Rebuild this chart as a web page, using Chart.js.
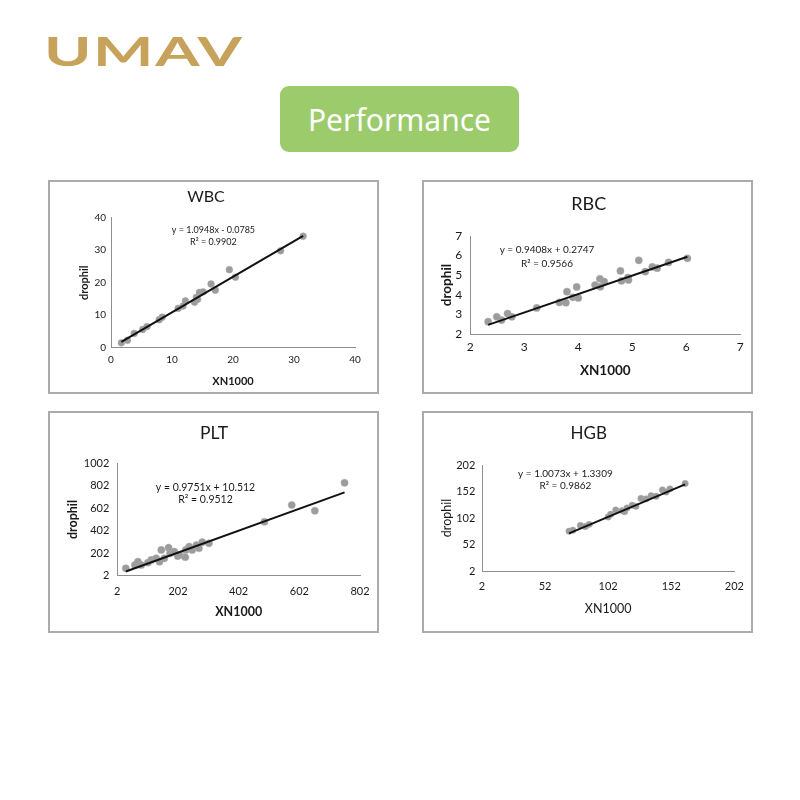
<!DOCTYPE html>
<html><head><meta charset="utf-8">
<script src="https://cdn.jsdelivr.net/npm/chart.js@4"></script>
<style>
html,body{margin:0;padding:0;background:#fff;width:800px;height:800px;overflow:hidden;}
.logo{position:absolute;left:44px;top:31px;font-family:Lato;font-weight:700;color:#c6a25b;font-size:40px;line-height:1;letter-spacing:1px;transform-origin:left top;transform:scale(1.6,1);white-space:nowrap;}
.badge{position:absolute;left:280px;top:86px;width:239px;height:66px;border-radius:9px;background:#9bcb6b;color:#fff;font-family:'Noto Sans';font-size:30px;display:flex;align-items:center;justify-content:center;}
.panel{position:absolute;box-shadow:inset 0 0 0 2px #ababab;}
.panel canvas{position:absolute;left:0;top:0;}
</style></head>
<body>
<div class="logo">UMAV</div>
<div class="badge">Performance</div>
<div class="panel" id="p0"><canvas id="c0"></canvas></div>
<div class="panel" id="p1"><canvas id="c1"></canvas></div>
<div class="panel" id="p2"><canvas id="c2"></canvas></div>
<div class="panel" id="p3"><canvas id="c3"></canvas></div>
<script>
// ---- data ----
const panelTitles = ['WBC', 'RBC', 'PLT', 'HGB'];
const xAxisTitle = 'XN1000';
const yAxisTitle = 'drophil';

const wbcX = [1.7, 2.7, 3.8, 5.2, 5.9, 7.9, 8.4, 11.0, 11.8, 12.2, 13.7, 14.0, 14.2, 14.5, 15.1, 16.4, 17.1, 19.4, 20.4, 27.8, 31.5];
const wbcY = [1.5, 2.3, 4.4, 5.6, 6.5, 8.6, 9.4, 12.1, 12.8, 14.4, 14.0, 15.5, 14.9, 17.0, 17.2, 19.6, 17.7, 24.0, 21.7, 29.8, 34.3];
const wbcFit = [1.0948, -0.0785];
const wbcEq = ['y = 1.0948x - 0.0785', 'R\u00B2 = 0.9902'];
const wbcXTicks = [0, 10, 20, 30, 40];
const wbcYTicks = [0, 10, 20, 30, 40];

const rbcX = [2.33, 2.49, 2.58, 2.69, 2.77, 3.23, 3.65, 3.77, 3.79, 3.90, 3.97, 4.00, 4.31, 4.40, 4.41, 4.48, 4.78, 4.80, 4.92, 4.93, 5.12, 5.24, 5.37, 5.46, 5.67, 6.02];
const rbcY = [2.63, 2.88, 2.71, 3.04, 2.88, 3.33, 3.61, 3.60, 4.16, 3.87, 4.40, 3.84, 4.50, 4.82, 4.41, 4.67, 5.22, 4.71, 4.88, 4.76, 5.76, 5.18, 5.42, 5.36, 5.65, 5.86];
const rbcFit = [0.9408, 0.2747];
const rbcEq = ['y = 0.9408x + 0.2747', 'R\u00B2 = 0.9566'];
const rbcXTicks = [2, 3, 4, 5, 6, 7];
const rbcYTicks = [2, 3, 4, 5, 6, 7];

const pltX = [30, 60, 70, 81, 103, 114, 130, 141, 147, 157, 171, 176, 190, 201, 208, 226, 228, 239, 249, 263, 271, 282, 304, 487, 577, 653, 751];
const pltY = [68, 97, 127, 97, 118, 142, 157, 127, 231, 157, 251, 201, 216, 177, 186, 166, 231, 260, 231, 275, 246, 300, 290, 482, 631, 580, 829];
const pltFit = [0.9751, 10.512];
const pltEq = ['y = 0.9751x + 10.512', 'R\u00B2 = 0.9512'];
const pltXTicks = [2, 202, 402, 602, 802];
const pltYTicks = [2, 202, 402, 602, 802, 1002];

const hgbX = [71, 74, 80, 84, 87, 102, 104, 108, 113, 115, 117, 121, 124, 128, 132, 136, 140, 145, 148, 151, 163];
const hgbY = [77, 79, 88, 86, 90, 104, 109, 117, 116, 114, 121, 126, 124, 139, 138, 144, 143, 155, 151, 157, 167];
const hgbFit = [1.0073, 1.3309];
const hgbEq = ['y = 1.0073x + 1.3309', 'R\u00B2 = 0.9862'];
const hgbXTicks = [2, 52, 102, 152, 202];
const hgbYTicks = [2, 52, 102, 152, 202];

// ---- layout / style per panel ----
const panels = [
  {xs: wbcX, ys: wbcY, fit: wbcFit, eq: wbcEq, xt: wbcXTicks, yt: wbcYTicks,
   box: [48, 180, 331, 214], pad: {left: 26.1, top: 37.7, right: 24, bottom: 1.7}, yW: 36.9, xH: 44.6,
   tick: 10, tpx: 6.3, tpy: 5, at: 11, aw: 'bold', ts: 16, tPos: [158, 17.3], es: 9, ePos: [165.4, 50, 62.3], r: 3.4},
  {xs: rbcX, ys: rbcY, fit: rbcFit, eq: rbcEq, xt: rbcXTicks, yt: rbcYTicks,
   box: [422, 180, 331, 214], pad: {left: 12.9, top: 56, right: 12.7, bottom: 11.2}, yW: 35.4, xH: 48.8,
   tick: 12, tpx: 5.5, tpy: 8, at: 13.5, aw: 'bold', ts: 18, tPos: [166.7, 24], es: 10, ePos: [125, 69.3, 84], r: 3.6},
  {xs: pltX, ys: pltY, fit: pltFit, eq: pltEq, xt: pltXTicks, yt: pltYTicks,
   box: [48, 411, 331, 222], pad: {left: 13.5, top: 52.3, right: 16, bottom: 9.8}, yW: 55.8, xH: 47.5,
   tick: 11, tpx: 9.4, tpy: 8, at: 12.5, aw: 'bold', ts: 17.5, tPos: [166, 22.3], es: 10.5, ePos: [157.5, 76.3, 88.3], r: 3.6},
  {xs: hgbX, ys: hgbY, fit: hgbFit, eq: hgbEq, xt: hgbXTicks, yt: hgbYTicks,
   box: [422, 411, 331, 222], pad: {left: 13.5, top: 54, right: 14.3, bottom: 12.5}, yW: 46.5, xH: 49.5,
   tick: 11, tpx: 9.1, tpy: 6.7, at: 12.5, aw: 'normal', ts: 17, tPos: [166.7, 22.3], es: 10, ePos: [143.4, 62.3, 75], r: 3.2}
];

const FONT = 'Lato';
const textPlugin = {
  id: 'panelText',
  afterDraw(chart, args, o) {
    const ctx = chart.ctx;
    ctx.save();
    ctx.fillStyle = '#1a1a1a';
    ctx.textAlign = 'center';
    ctx.textBaseline = 'middle';
    ctx.font = `${o.ts}px ${FONT}`;
    ctx.fillText(o.title, o.tPos[0], o.tPos[1]);
    ctx.font = `${o.es}px ${FONT}`;
    ctx.fillText(o.eq[0], o.ePos[0], o.ePos[1]);
    ctx.fillText(o.eq[1], o.ePos[0], o.ePos[2]);
    ctx.restore();
  }
};

panels.forEach((p, i) => {
  const wrap = document.getElementById('p' + i);
  wrap.style.left = p.box[0] + 'px';
  wrap.style.top = p.box[1] + 'px';
  wrap.style.width = p.box[2] + 'px';
  wrap.style.height = p.box[3] + 'px';
  const cv = document.getElementById('c' + i);
  cv.width = p.box[2];
  cv.height = p.box[3];
  const pts = p.xs.map((x, k) => ({x: x, y: p.ys[k]}));
  const lo = Math.min(...p.xs), hi = Math.max(...p.xs);
  const trend = [{x: lo, y: p.fit[0] * lo + p.fit[1]}, {x: hi, y: p.fit[0] * hi + p.fit[1]}];
  const axisCommon = (ticksArr, horizontal) => ({
    type: 'linear',
    min: ticksArr[0], max: ticksArr[ticksArr.length - 1],
    afterBuildTicks: s => { s.ticks = ticksArr.map(v => ({value: v})); },
    afterFit: s => { if (horizontal) s.height = p.xH; else s.width = p.yW; },
    grid: {display: false, drawTicks: false},
    border: {display: true, color: '#8f8f8f', width: 1},
    ticks: {color: '#1a1a1a', font: {family: FONT, size: p.tick}, padding: horizontal ? p.tpx : p.tpy,
            maxRotation: 0, autoSkip: false, callback: v => String(v)},
    title: {display: true, text: horizontal ? xAxisTitle : yAxisTitle, color: '#1a1a1a',
            font: {family: FONT, size: p.at, weight: p.aw}, padding: {top: 4, bottom: 4}}
  });
  new Chart(cv, {
    type: 'scatter',
    data: {datasets: [
      {type: 'line', data: trend, borderColor: '#111', borderWidth: 2, pointRadius: 0, showLine: true, fill: false},
      {data: pts, backgroundColor: '#9c9c9c', borderColor: '#a8a8a8', borderWidth: 0.5, pointRadius: p.r, pointHoverRadius: p.r}
    ]},
    options: {
      responsive: false, animation: false, devicePixelRatio: 1,
      layout: {padding: p.pad},
      plugins: {legend: {display: false}, tooltip: {enabled: false},
        panelText: {title: panelTitles[i], ts: p.ts, tPos: p.tPos, eq: p.eq, es: p.es, ePos: p.ePos}},
      scales: {x: axisCommon(p.xt, true), y: axisCommon(p.yt, false)}
    },
    plugins: [textPlugin]
  });
});
</script>
</body></html>
